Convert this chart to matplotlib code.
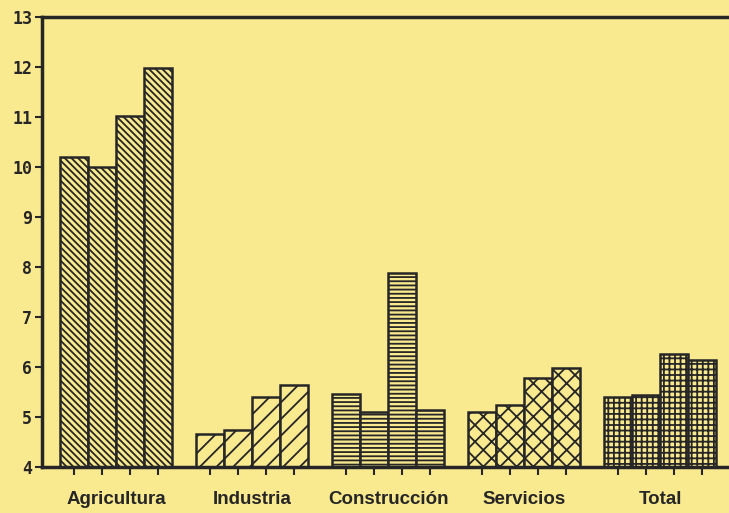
import numpy as np
import matplotlib.pyplot as plt

categories = ['Agricultura', 'Industria', 'Construcción', 'Servicios', 'Total']
values = [
    [10.2, 10.0, 11.03, 11.98],   # Agricultura
    [4.66, 4.74, 5.4, 5.64],      # Industria
    [5.45, 5.1, 7.88, 5.13],      # Construcción
    [5.1, 5.24, 5.78, 5.98],      # Servicios
    [5.4, 5.43, 6.26, 6.14],      # Total
]
hatches = ['\\\\\\\\\\', '//', '----', 'xx', '+++']
yticks = [4, 5, 6, 7, 8, 9, 10, 11, 12, 13]

bg = '#f9e98f'
ink = '#262626'
plt.rcParams['hatch.linewidth'] = 1.3
plt.rcParams['hatch.color'] = ink

fig = plt.figure(figsize=(7.29, 5.13), dpi=100, facecolor=bg)
ax = fig.add_axes([0.0576, 0.0897, 0.96, 0.877], facecolor=bg)

width = 0.206
offsets = (np.arange(4) - 1.5) * width
bar_pos = []
for i, cat in enumerate(categories):
    xs = i + offsets
    bar_pos.extend(xs)
    ax.bar(xs, np.array(values[i]) - 4, bottom=4, width=width,
           color=bg, edgecolor=ink, linewidth=1.8, hatch=hatches[i])

ax.set_xlim(-0.548, 4.6)
ax.set_ylim(4, 13)
ax.set_yticks(yticks)
ax.set_yticklabels([str(t) for t in yticks], fontsize=12, fontweight='bold',
                   color=ink, family='DejaVu Sans Mono')
ax.set_xticks(bar_pos)
ax.set_xticklabels([''] * len(bar_pos))
ax.set_xticks(range(len(categories)), minor=True)
ax.set_xticklabels(categories, minor=True, fontsize=13.5, fontweight='bold',
                   color=ink, family='Liberation Sans')
ax.tick_params(axis='x', which='major', length=6, width=1.5, color=ink, direction='out')
ax.tick_params(axis='x', which='minor', length=0, pad=17)
ax.tick_params(axis='y', length=5, width=1.5, color=ink, direction='out', pad=2)

for side in ['left', 'bottom', 'top']:
    ax.spines[side].set_linewidth(2.5)
    ax.spines[side].set_color(ink)
ax.spines['right'].set_visible(False)

fig.savefig('out.png', dpi=100, facecolor=bg)
